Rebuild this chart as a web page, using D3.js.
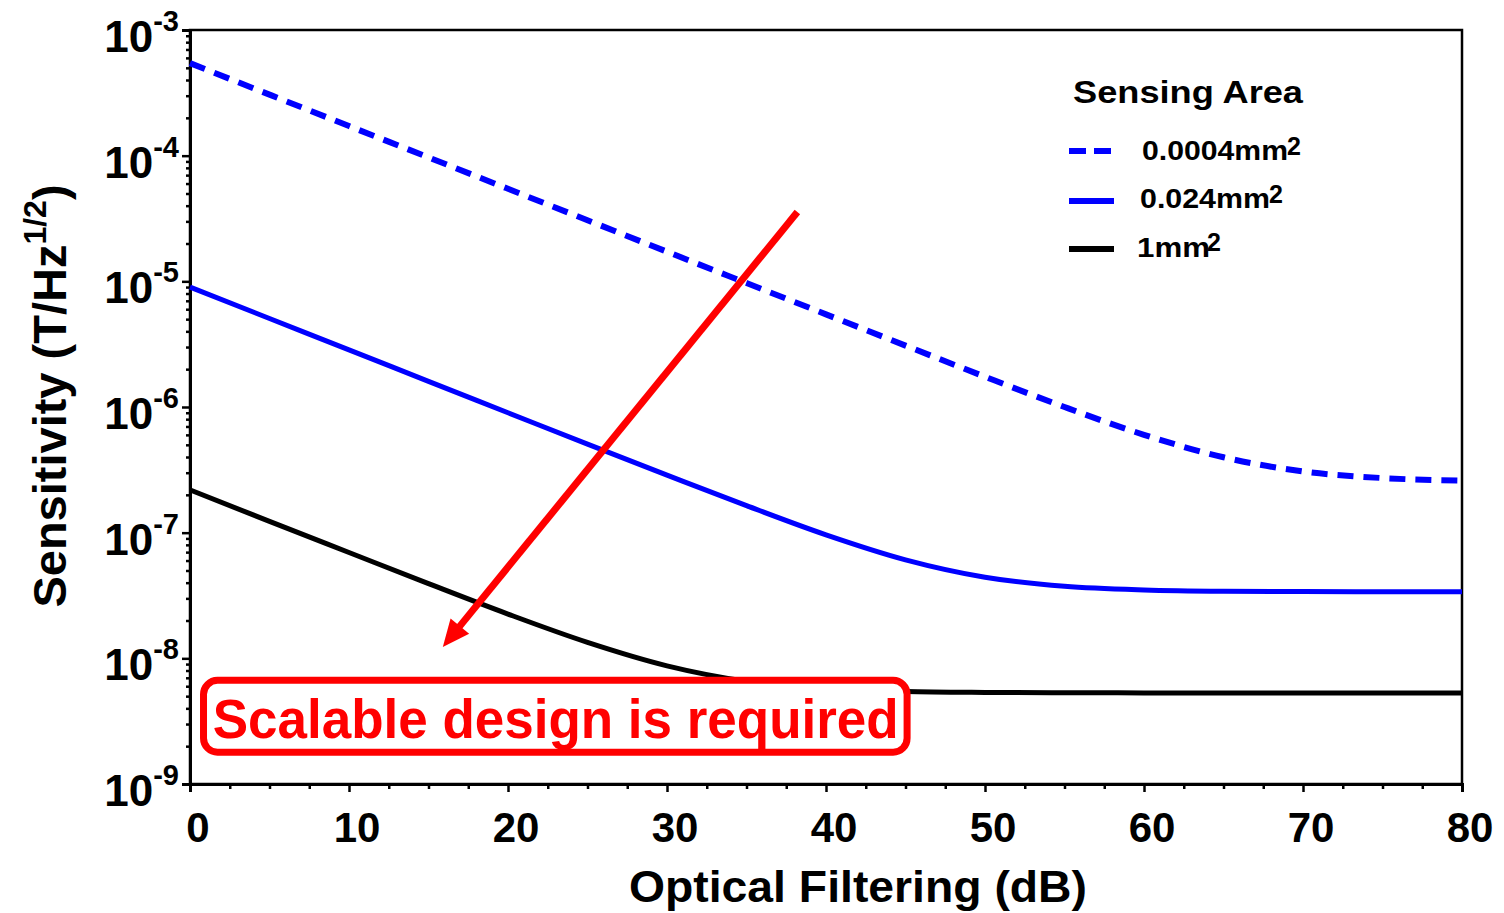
<!DOCTYPE html>
<html><head><meta charset="utf-8">
<script src="https://cdn.jsdelivr.net/npm/d3@7"></script>
<style>
body{margin:0;background:#fff}
svg{display:block}
text{font-family:Arial,"Liberation Sans",Helvetica,sans-serif;font-weight:bold;fill:#000}
</style>
</head><body>
<svg id="chart" width="1504" height="913"></svg>
<script>
// ---- data ----
const filteringDb = [0,5,10,15,20,25,30,35,40,45,50,55,60,65,70,75,80];
const area0004 = [5.45e-4,3.06e-4,1.72e-4,9.69e-5,5.45e-5,3.06e-5,1.72e-5,9.69e-6,5.46e-6,3.08e-6,1.74e-6,1.00e-6,6.01e-7,3.98e-7,3.07e-7,2.72e-7,2.60e-7];
const area024  = [9.0e-6,5.06e-6,2.85e-6,1.60e-6,9.0e-7,5.06e-7,2.87e-7,1.64e-7,9.61e-8,6.08e-8,4.42e-8,3.74e-8,3.50e-8,3.42e-8,3.40e-8,3.39e-8,3.38e-8];
const area1    = [2.19e-7,1.23e-7,6.95e-8,3.93e-8,2.25e-8,1.34e-8,8.72e-9,6.57e-9,5.73e-9,5.44e-9,5.35e-9,5.32e-9,5.31e-9,5.30e-9,5.30e-9,5.30e-9,5.30e-9];
const seriesLabels = ["0.0004mm","0.024mm","1mm"];
const seriesColors = ["#0000ff","#0000ff","#000000"];
const seriesDashed = [true,false,false];
const xTickValues = [0,10,20,30,40,50,60,70,80];
const yTickExponents = [-3,-4,-5,-6,-7,-8,-9];
const legendTitle = "Sensing Area";
const xTitle = "Optical Filtering (dB)";
const annotationText = "Scalable design is required";
// annotation in data coordinates: arrow start/tip, box corners
const arrowStart = [38.2, 3.56e-5];
const arrowTip = [15.9, 1.23e-8];
const boxCorner1 = [0.85, 6.68e-9];
const boxCorner2 = [45.1, 1.79e-9];
const textAnchorPt = [23.0, 2.33e-9];

// ---- layout ----
const L = 190, R = 1462, T = 30, B = 784;
const svg = d3.select("#chart");
const x = d3.scaleLinear().domain([0,80]).range([L,R]);
const y = d3.scaleLog().domain([1e-9,1e-3]).range([B,T]);

// frame (top/right)
svg.append("rect").attr("x",L).attr("y",T).attr("width",R-L).attr("height",B-T)
  .attr("fill","none").attr("stroke","#000").attr("stroke-width",2.5);

// y axis
const yMajor = yTickExponents.map(e => Math.pow(10,e));
const yMinor = [];
for (let d=-9; d<-3; d++) for (let k=2;k<=9;k++) yMinor.push(k*Math.pow(10,d));
const yAxisG = svg.append("g").attr("transform",`translate(${L},0)`)
  .call(d3.axisLeft(y).tickValues(yMajor).tickFormat("").tickSizeOuter(0).tickSize(8));
const yMinorG = svg.append("g").attr("transform",`translate(${L},0)`)
  .call(d3.axisLeft(y).tickValues(yMinor).tickFormat("").tickSizeOuter(0).tickSize(4));
// x axis
const xMinor = d3.range(0,80.01,2.5).filter(v => v%10!==0);
const xAxisG = svg.append("g").attr("transform",`translate(0,${B})`)
  .call(d3.axisBottom(x).tickValues(xTickValues).tickFormat("").tickSizeOuter(0).tickSize(8));
const xMinorG = svg.append("g").attr("transform",`translate(0,${B})`)
  .call(d3.axisBottom(x).tickValues(xMinor).tickFormat("").tickSizeOuter(0).tickSize(5));
[yAxisG,yMinorG,xAxisG,xMinorG].forEach(g=>{
  g.selectAll("path").attr("stroke","#000").attr("stroke-width",3);
  g.selectAll("line").attr("stroke","#000").attr("stroke-width",2.5);
});

// y tick labels
yTickExponents.forEach(e=>{
  const t = svg.append("text").attr("x",179).attr("y",y(Math.pow(10,e))+22)
    .attr("text-anchor","end").attr("font-size",44);
  t.append("tspan").text("10");
  t.append("tspan").attr("dy",-21).attr("font-size",29).text(String(e));
});
// x tick labels
xTickValues.forEach(v=>{
  svg.append("text").attr("x",x(v)+8).attr("y",842).attr("text-anchor","middle")
    .attr("font-size",42).text(v);
});

// axis titles
svg.append("text").attr("x",858).attr("y",902).attr("text-anchor","middle")
  .attr("font-size",45).attr("textLength",458).attr("lengthAdjust","spacingAndGlyphs").text(xTitle);
const yt = svg.append("text").attr("transform","translate(66,396) rotate(-90)")
  .attr("text-anchor","middle").attr("font-size",47);
yt.append("tspan").text("Sensitivity (T/Hz");
yt.append("tspan").attr("dy",-20).attr("font-size",32).text("1/2");
yt.append("tspan").attr("dy",20).text(")");

// curves
const allSeries = [area0004, area024, area1];
const line = d3.line().x(d=>x(d[0])).y(d=>y(d[1])).curve(d3.curveMonotoneX);
allSeries.forEach((vals,i)=>{
  const pts = filteringDb.map((f,j)=>[f,vals[j]]);
  svg.append("path").datum(pts).attr("d",line).attr("fill","none")
    .attr("stroke",seriesColors[i]).attr("stroke-width",seriesDashed[i]?6:5)
    .attr("stroke-dasharray",seriesDashed[i]?"16,10":null);
});

// legend
svg.append("text").attr("x",1073).attr("y",103).attr("font-size",31)
  .attr("textLength",230).attr("lengthAdjust","spacingAndGlyphs").text(legendTitle);
const legRows = [
  {ly:151, tx:1142, ty:160, tl:146, sx:1287, sy:155},
  {ly:201, tx:1140, ty:208, tl:130, sx:1269, sy:203},
  {ly:249, tx:1137, ty:257, tl:73,  sx:1207, sy:251}
];
legRows.forEach((r,i)=>{
  svg.append("line").attr("x1",1069).attr("x2",1114).attr("y1",r.ly).attr("y2",r.ly)
    .attr("stroke",seriesColors[i]).attr("stroke-width",6)
    .attr("stroke-dasharray",seriesDashed[i]?"17,8":null);
  svg.append("text").attr("x",r.tx).attr("y",r.ty).attr("font-size",27)
    .attr("textLength",r.tl).attr("lengthAdjust","spacingAndGlyphs").text(seriesLabels[i]);
  svg.append("text").attr("x",r.sx).attr("y",r.sy).attr("font-size",25).text("2");
});

// annotation box
const bx1 = x(boxCorner1[0]), by1 = y(boxCorner1[1]);
const bx2 = x(boxCorner2[0]), by2 = y(boxCorner2[1]);
svg.append("rect").attr("x",bx1).attr("y",by1).attr("width",bx2-bx1).attr("height",by2-by1)
  .attr("rx",14).attr("ry",14).attr("fill","#fff").attr("stroke","#ff0000").attr("stroke-width",7);
svg.append("text").attr("x",x(textAnchorPt[0])).attr("y",y(textAnchorPt[1]))
  .attr("text-anchor","middle").attr("font-size",56).style("fill","#ff0000")
  .attr("textLength",686).attr("lengthAdjust","spacingAndGlyphs").text(annotationText);

// arrow
const sx = x(arrowStart[0]), sy = y(arrowStart[1]);
const tx = x(arrowTip[0]), ty = y(arrowTip[1]);
const dx = tx-sx, dy = ty-sy, len = Math.hypot(dx,dy);
const ux = dx/len, uy = dy/len;
const headL = 27, headW = 12;
const bxh = tx-ux*headL, byh = ty-uy*headL;
svg.append("line").attr("x1",sx).attr("y1",sy).attr("x2",bxh+ux*2).attr("y2",byh+uy*2)
  .attr("stroke","#ff0000").attr("stroke-width",7);
svg.append("polygon").attr("points",[
  [tx,ty],[bxh-uy*headW, byh+ux*headW],[bxh+uy*headW, byh-ux*headW]
].map(p=>p.join(",")).join(" ")).attr("fill","#ff0000");
</script>
</body></html>
